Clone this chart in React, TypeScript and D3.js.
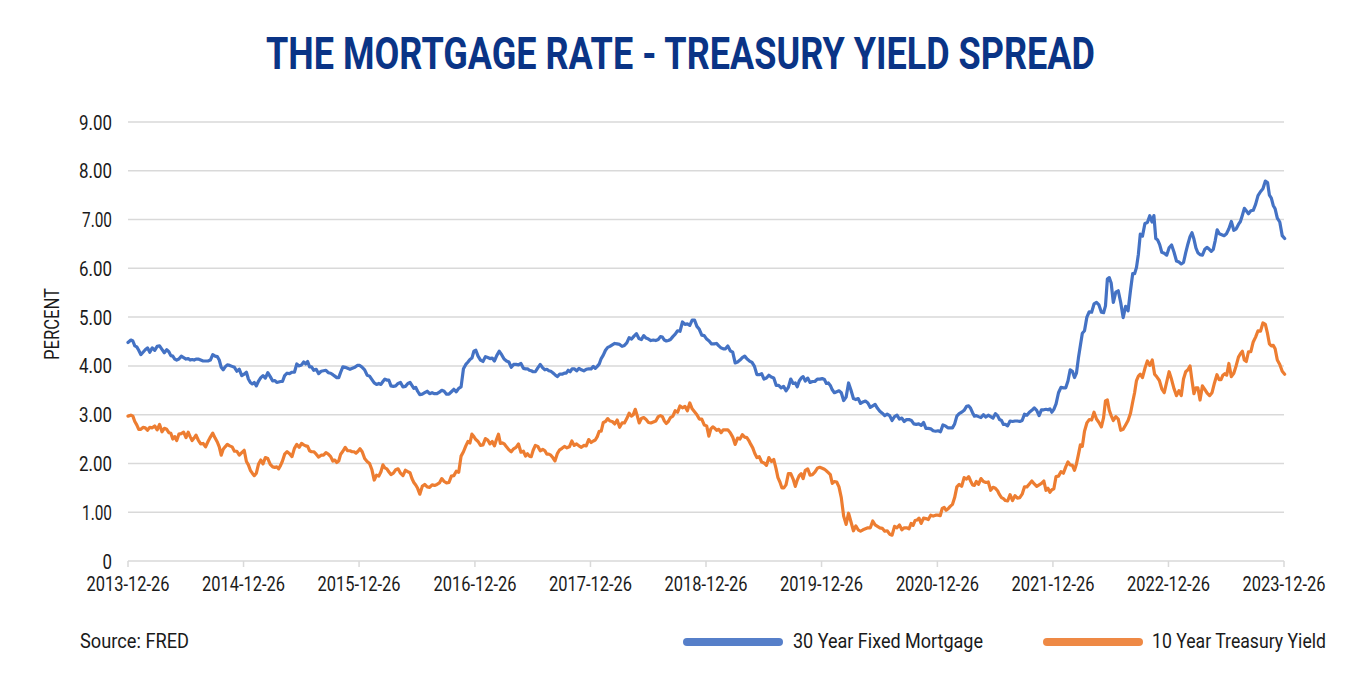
import React from "react";
import * as d3 from "d3";

// ---- Data (weekly values grouped by month; index 0 = January) ----
const startDate = "2013-12-26";
const mortgageStart = 4.48;
const treasuryStart = 2.97;

const years = [2014, 2015, 2016, 2017, 2018, 2019, 2020, 2021, 2022, 2023];

const mortgage2014 = [[4.53,4.51,4.41,4.39,4.32],[4.23,4.28,4.33,4.37],[4.28,4.37,4.32,4.40],[4.41,4.34,4.27,4.33],[4.29,4.21,4.20,4.14,4.12],[4.14,4.20,4.17,4.14],[4.15,4.12,4.13,4.12,4.14],[4.14,4.12,4.10,4.10],[4.10,4.12,4.23,4.20],[4.19,4.12,3.97,3.92,3.98],[4.02,4.01,3.99,3.97],[3.89,3.93,3.80,3.83]];
const mortgage2015 = [[3.87,3.73,3.66,3.63,3.66],[3.59,3.69,3.76,3.80],[3.75,3.86,3.78,3.69],[3.70,3.66,3.67,3.68,3.68],[3.80,3.85,3.84,3.87],[3.87,4.04,4.00,4.02],[4.08,4.04,4.09,3.98,3.98],[3.91,3.93,3.84,3.89],[3.90,3.91,3.86,3.85],[3.82,3.79,3.76,3.76,3.87],[3.98,3.97,3.95,3.93],[3.95,3.97,4.01,4.01]];
const mortgage2016 = [[3.97,3.92,3.81,3.79],[3.72,3.65,3.62,3.64],[3.62,3.68,3.73,3.71,3.71],[3.59,3.58,3.59,3.64],[3.66,3.57,3.58,3.64],[3.66,3.60,3.54,3.56,3.48],[3.41,3.42,3.45,3.48],[3.43,3.45,3.43,3.43],[3.46,3.50,3.48,3.42],[3.42,3.47,3.52,3.47],[3.54,3.57,3.94,4.03],[4.08,4.13,4.16,4.30,4.32]];
const mortgage2017 = [[4.20,4.12,4.09,4.19],[4.17,4.15,4.16,4.10],[4.21,4.30,4.23,4.14],[4.10,4.08,3.97,4.03],[4.03,4.02,4.05,3.95],[3.94,3.94,3.91,3.90,3.88],[3.88,3.96,4.03,3.96],[3.92,3.93,3.90,3.89,3.86],[3.82,3.78,3.83,3.83],[3.85,3.85,3.91,3.88,3.94],[3.94,3.90,3.95,3.92],[3.90,3.93,3.94,3.94]];
const mortgage2018 = [[3.99,3.95,3.99,4.04,4.15],[4.22,4.32,4.38,4.40],[4.43,4.46,4.45,4.44],[4.40,4.42,4.47,4.58],[4.55,4.61,4.66,4.56],[4.54,4.62,4.57,4.55],[4.52,4.53,4.52,4.54],[4.60,4.59,4.53,4.51,4.52],[4.54,4.60,4.65,4.72],[4.71,4.90,4.85,4.86],[4.83,4.94,4.94,4.81],[4.75,4.63,4.62,4.55]];
const mortgage2019 = [[4.51,4.45,4.45,4.46],[4.41,4.37,4.35,4.35],[4.41,4.31,4.28,4.06],[4.08,4.12,4.17,4.20],[4.14,4.10,4.07,3.99],[3.82,3.82,3.84,3.73],[3.75,3.81,3.77,3.75],[3.60,3.60,3.55,3.58],[3.49,3.56,3.73,3.64],[3.65,3.57,3.69,3.75,3.78],[3.69,3.75,3.66,3.68],[3.68,3.73,3.73,3.74]];
const mortgage2020 = [[3.72,3.64,3.65,3.60,3.51],[3.45,3.47,3.49,3.45],[3.29,3.36,3.65,3.50],[3.33,3.31,3.33,3.23],[3.26,3.28,3.24,3.15],[3.18,3.21,3.13,3.07],[3.03,2.98,3.01,2.98],[2.88,2.96,2.99,2.91],[2.93,2.86,2.90,2.90],[2.88,2.81,2.80,2.81],[2.78,2.84,2.72,2.72],[2.71,2.67,2.66,2.67]];
const mortgage2021 = [[2.65,2.79,2.77,2.73],[2.73,2.73,2.81,2.97],[3.02,3.05,3.09,3.17],[3.18,3.13,3.04,2.97,2.98],[2.96,2.94,3.00,2.95],[2.99,2.96,2.93,3.02],[2.98,2.90,2.88,2.80,2.80],[2.77,2.87,2.86,2.87],[2.87,2.86,2.88,3.01],[2.99,3.05,3.09,3.14],[3.09,2.98,3.10,3.10],[3.11,3.10,3.12,3.05,3.11]];
const mortgage2022 = [[3.22,3.45,3.56,3.55],[3.55,3.69,3.92,3.89],[3.76,3.85,4.16,4.42,4.67],[4.72,5.00,5.11,5.10],[5.27,5.30,5.25,5.10],[5.09,5.23,5.78,5.81,5.70],[5.30,5.51,5.54,5.30],[4.99,5.22,5.13,5.55],[5.89,5.89,6.02,6.29,6.70],[6.66,6.92,6.94,7.08],[6.95,7.08,6.61,6.58,6.49],[6.33,6.31,6.27,6.42]];
const mortgage2023 = [[6.48,6.33,6.15,6.13],[6.09,6.12,6.32,6.50],[6.65,6.73,6.60,6.42,6.32],[6.28,6.27,6.39,6.43],[6.39,6.35,6.39,6.57,6.79],[6.71,6.69,6.67,6.71],[6.81,6.96,6.78,6.81],[6.90,6.96,7.09,7.23,7.18],[7.12,7.18,7.19,7.31],[7.49,7.57,7.63,7.79],[7.76,7.50,7.44,7.29,7.22],[7.03,6.95,6.67,6.61]];

const treasury2014 = [[2.99,2.97,2.86,2.79,2.70],[2.70,2.74,2.73,2.68],[2.74,2.73,2.77,2.69],[2.80,2.65,2.72,2.70],[2.63,2.62,2.50,2.55,2.47],[2.60,2.61,2.64,2.53],[2.64,2.55,2.47,2.52,2.58],[2.48,2.40,2.41,2.34],[2.45,2.54,2.62,2.52],[2.44,2.34,2.17,2.29,2.34],[2.39,2.36,2.34,2.25],[2.25,2.17,2.22,2.27]];
const treasury2015 = [[2.04,1.97,1.86,1.80,1.75],[1.80,1.99,2.07,1.99],[2.12,2.10,1.98,1.93],[1.92,1.93,1.89,1.96,2.05],[2.19,2.24,2.20,2.14],[2.31,2.39,2.33,2.41],[2.38,2.36,2.35,2.26,2.24],[2.24,2.19,2.13,2.17],[2.17,2.22,2.19,2.14],[2.05,2.07,2.02,2.05,2.19],[2.25,2.33,2.26,2.26],[2.24,2.24,2.21,2.25,2.30]];
const treasury2016 = [[2.24,2.10,2.04,2.00],[1.87,1.66,1.76,1.74],[1.83,1.97,1.91,1.89,1.83],[1.77,1.80,1.87,1.89],[1.80,1.75,1.86,1.83],[1.81,1.69,1.61,1.56,1.49],[1.37,1.53,1.57,1.52],[1.51,1.56,1.55,1.57],[1.60,1.69,1.63,1.60],[1.61,1.74,1.75,1.84],[1.82,2.15,2.24,2.36],[2.45,2.42,2.60,2.55,2.49]];
const treasury2017 = [[2.45,2.37,2.38,2.51],[2.48,2.40,2.45,2.36],[2.49,2.60,2.41,2.42,2.40],[2.34,2.28,2.24,2.30],[2.33,2.40,2.23,2.25],[2.15,2.20,2.15,2.14,2.27],[2.37,2.35,2.26,2.29],[2.26,2.19,2.19,2.17,2.12],[2.05,2.20,2.28,2.31],[2.35,2.32,2.34,2.46],[2.37,2.40,2.36,2.33],[2.37,2.36,2.49,2.43]];
const treasury2018 = [[2.46,2.48,2.55,2.66,2.66],[2.84,2.86,2.92,2.87],[2.86,2.81,2.89,2.74],[2.83,2.83,2.92,3.03],[2.97,3.00,3.11,2.98,2.83],[2.92,2.94,2.90,2.84],[2.83,2.85,2.87,2.96],[2.98,2.96,2.87,2.82,2.86],[2.94,2.97,3.08,3.05],[3.18,3.14,3.17,3.08],[3.24,3.12,3.06,3.00],[2.91,2.91,2.79,2.77]];
const treasury2019 = [[2.56,2.71,2.75,2.72,2.68],[2.70,2.63,2.69,2.69],[2.69,2.63,2.54,2.39],[2.52,2.50,2.59,2.54],[2.53,2.47,2.39,2.32,2.21],[2.12,2.14,2.03,2.01],[1.96,2.12,2.04,2.08],[1.90,1.71,1.62,1.50,1.50],[1.56,1.79,1.79,1.68],[1.53,1.66,1.75,1.79,1.69],[1.86,1.89,1.76,1.77],[1.82,1.90,1.92,1.90]];
const treasury2020 = [[1.88,1.85,1.81,1.77,1.59],[1.63,1.62,1.52,1.30],[0.92,0.75,0.98,0.80],[0.62,0.72,0.64,0.61],[0.64,0.66,0.68,0.68],[0.82,0.74,0.71,0.68],[0.67,0.61,0.62,0.55],[0.53,0.71,0.68,0.74],[0.64,0.68,0.68,0.66],[0.77,0.73,0.83,0.84,0.88],[0.77,0.88,0.87,0.85],[0.94,0.92,0.94,0.94]];
const treasury2021 = [[0.93,1.08,1.10,1.04,1.07],[1.12,1.16,1.30,1.52],[1.57,1.53,1.71,1.68],[1.73,1.64,1.56,1.55,1.63],[1.57,1.69,1.63,1.61],[1.62,1.45,1.51,1.49],[1.44,1.36,1.30,1.28,1.24],[1.23,1.36,1.24,1.34],[1.29,1.30,1.37,1.52],[1.52,1.58,1.64,1.58],[1.53,1.56,1.59,1.64],[1.45,1.49,1.41,1.46,1.48]];
const treasury2022 = [[1.73,1.74,1.83,1.80],[1.93,2.03,1.97,1.96],[1.86,1.99,2.18,2.38,2.35],[2.66,2.83,2.90,2.89],[3.05,2.91,2.84,2.75],[2.94,3.28,3.30,3.09,2.98],[2.88,2.96,2.91,2.68],[2.70,2.79,2.88,3.03],[3.26,3.45,3.70,3.79,3.83],[3.76,3.95,4.10,4.01],[4.12,3.83,3.77,3.70],[3.53,3.45,3.67,3.88]];
const treasury2023 = [[3.72,3.53,3.39,3.49],[3.39,3.73,3.88,3.92],[4.00,3.70,3.43,3.55,3.55],[3.30,3.59,3.52,3.44],[3.39,3.45,3.65,3.82],[3.72,3.72,3.81,3.84,3.81],[4.05,3.78,3.85,4.01],[4.18,4.25,4.30,4.12,4.09],[4.29,4.29,4.49,4.59],[4.72,4.71,4.88,4.85],[4.66,4.45,4.41,4.42,4.35],[4.12,4.03,3.89,3.83]];

const mortgageYears = [mortgage2014, mortgage2015, mortgage2016, mortgage2017, mortgage2018, mortgage2019, mortgage2020, mortgage2021, mortgage2022, mortgage2023];
const treasuryYears = [treasury2014, treasury2015, treasury2016, treasury2017, treasury2018, treasury2019, treasury2020, treasury2021, treasury2022, treasury2023];

const xTickLabels = ["2013-12-26","2014-12-26","2015-12-26","2016-12-26","2017-12-26","2018-12-26","2019-12-26","2020-12-26","2021-12-26","2022-12-26","2023-12-26"];
const yTicks = [0,1,2,3,4,5,6,7,8,9];

const seriesNames = ["30 Year Fixed Mortgage", "10 Year Treasury Yield"];
const seriesColors = ["#4472C4", "#ED7D31"];

const parse = d3.timeParse("%Y-%m-%d");

type Pt = { date: Date; value: number };

function buildSeries(start: number, byYear: number[][][]): Pt[] {
  const pts: Pt[] = [{ date: parse(startDate)!, value: start }];
  byYear.forEach((months, yi) => {
    const yr = years[yi];
    months.forEach((vals, m) => {
      const s = new Date(yr, m, 1).getTime();
      const e = new Date(yr, m + 1, 1).getTime();
      vals.forEach((v, j) => {
        pts.push({ date: new Date(s + ((j + 0.5) / vals.length) * (e - s)), value: v });
      });
    });
  });
  return pts;
}

const W = 1364;
const H = 688;
const left = 128;
const right = 1284;
const top = 122;
const bottom = 561;

export default function App() {
  const x = d3
    .scaleTime()
    .domain([parse(xTickLabels[0])!, parse(xTickLabels[xTickLabels.length - 1])!])
    .range([left, right]);
  const y = d3.scaleLinear().domain([0, 9]).range([bottom, top]);

  const series = [buildSeries(mortgageStart, mortgageYears), buildSeries(treasuryStart, treasuryYears)];
  const line = d3
    .line<Pt>()
    .x((d) => x(d.date))
    .y((d) => y(d.value));

  const font = "Roboto, 'Liberation Sans', sans-serif";
  const grid = "#d9d9d9";
  const textColor = "#1a1a1a";

  const legendX = [683, 1043];
  const legendTextX = [793, 1152];
  const legendTextLen = [190, 174];

  return (
    <svg
      width={W}
      height={H}
      style={{ position: "absolute", left: 0, top: 0, background: "#fff" }}
      fontFamily={font}
    >
      <rect width={W} height={H} fill="#fff" />
      <text
        x={680.5}
        y={69}
        textAnchor="middle"
        fontSize={44}
        fontWeight={700}
        fill="#0a3486"
        textLength={829}
        lengthAdjust="spacingAndGlyphs"
      >
        THE MORTGAGE RATE - TREASURY YIELD SPREAD
      </text>

      {yTicks.map((t) => (
        <g key={t}>
          {t > 0 && (
            <line x1={left} x2={right} y1={y(t)} y2={y(t)} stroke={grid} strokeWidth={1.5} />
          )}
          <text
            x={112}
            y={y(t)}
            dy="0.36em"
            textAnchor="end"
            fontSize={21}
            fill={textColor}
            textLength={t === 0 ? 9.5 : t === 1 || t === 7 ? 30 : 33}
            lengthAdjust="spacingAndGlyphs"
          >
            {t === 0 ? "0" : d3.format(".2f")(t)}
          </text>
        </g>
      ))}

      <line x1={left} x2={right} y1={bottom} y2={bottom} stroke={grid} strokeWidth={1.5} />
      {xTickLabels.map((lab) => {
        const xx = x(parse(lab)!);
        return (
          <g key={lab}>
            <line x1={xx} x2={xx} y1={bottom} y2={bottom + 6} stroke={grid} strokeWidth={1.5} />
            <text
              x={xx}
              y={591}
              textAnchor="middle"
              fontSize={21}
              fill={textColor}
              textLength={83}
              lengthAdjust="spacingAndGlyphs"
            >
              {lab}
            </text>
          </g>
        );
      })}

      <text
        transform="translate(59,324) rotate(-90)"
        textAnchor="middle"
        fontSize={20}
        fill={textColor}
        textLength={72}
        lengthAdjust="spacingAndGlyphs"
      >
        PERCENT
      </text>

      {series.map((s, i) => (
        <path
          key={i}
          d={line(s) || ""}
          fill="none"
          stroke={seriesColors[i]}
          strokeWidth={3.2}
          strokeLinejoin="round"
          strokeLinecap="round"
        />
      ))}

      <text
        x={80}
        y={648}
        fontSize={21}
        fill={textColor}
        textLength={109}
        lengthAdjust="spacingAndGlyphs"
      >
        Source: FRED
      </text>

      {seriesNames.map((n, i) => (
        <g key={n}>
          <line
            x1={legendX[i] + 4}
            x2={legendX[i] + 96}
            y1={642}
            y2={642}
            stroke={seriesColors[i]}
            strokeWidth={8}
            strokeLinecap="round"
            opacity={0.9}
          />
          <text
            x={legendTextX[i]}
            y={648}
            fontSize={21}
            fill={textColor}
            textLength={legendTextLen[i]}
            lengthAdjust="spacingAndGlyphs"
          >
            {n}
          </text>
        </g>
      ))}
    </svg>
  );
}
